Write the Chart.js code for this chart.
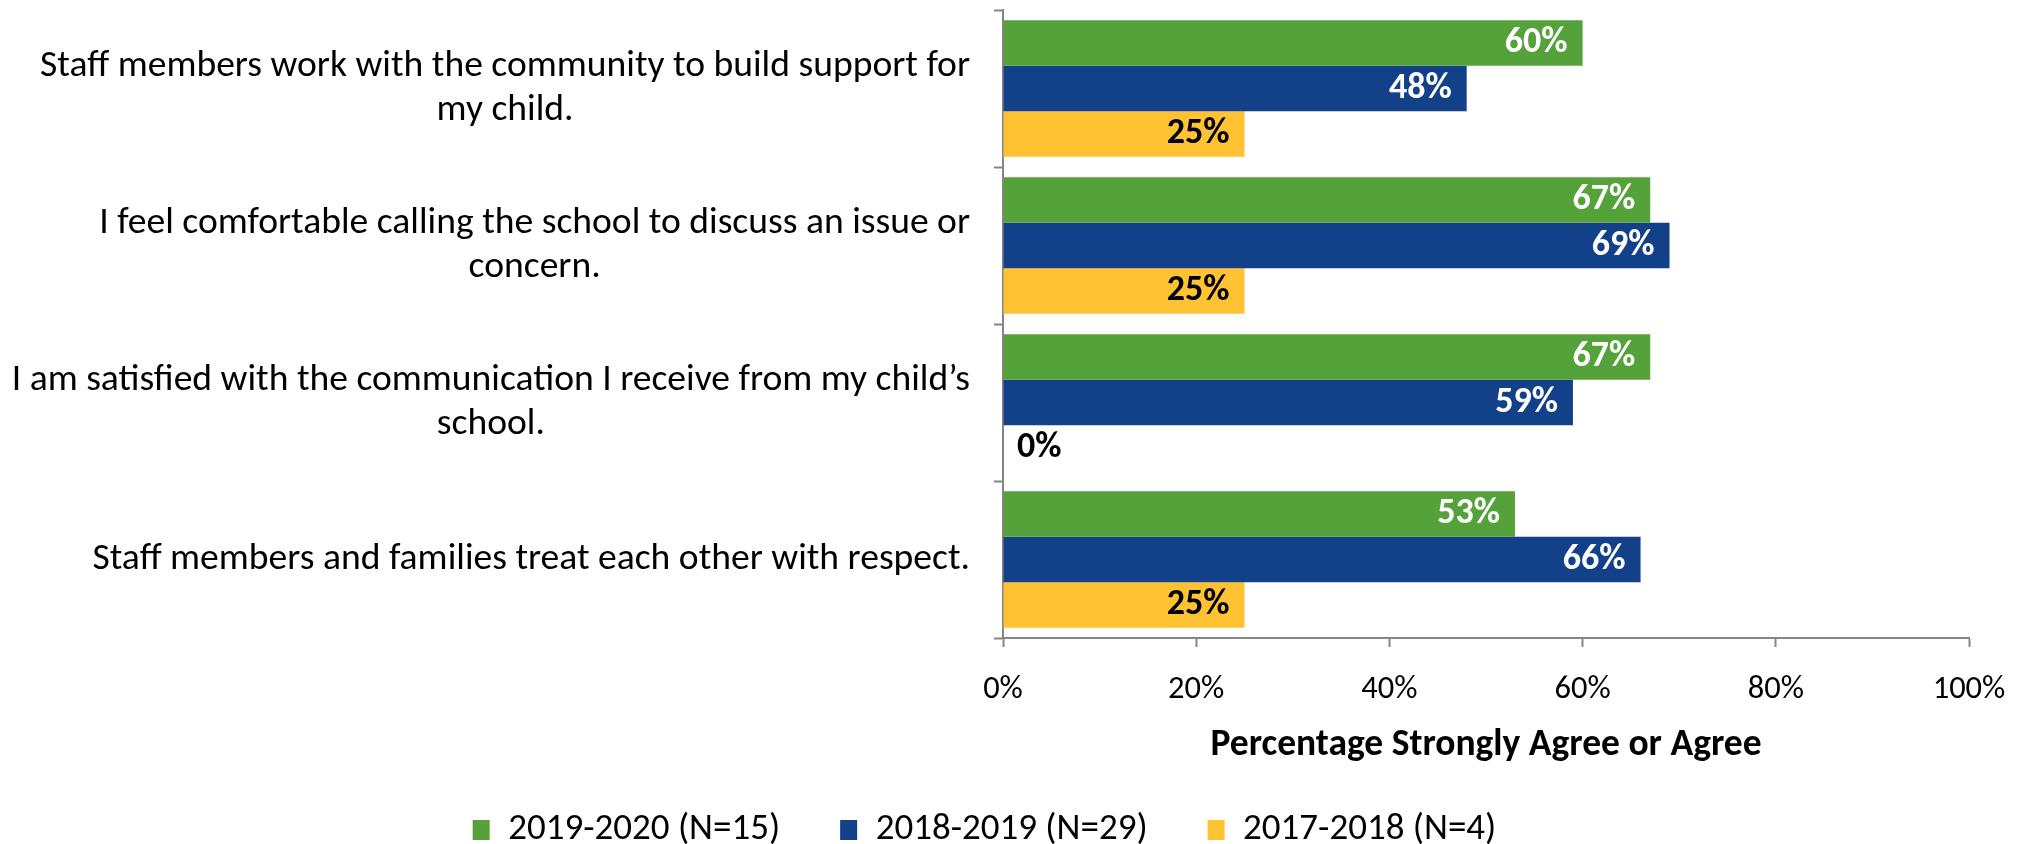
<!DOCTYPE html>
<html>
<head>
<meta charset="utf-8">
<script src="https://cdn.jsdelivr.net/npm/chart.js@4.4.1/dist/chart.umd.min.js"></script>
<style>
  html, body { margin: 0; padding: 0; background: #fff; }
</style>
</head>
<body>
<canvas id="myChart" width="2033" height="844"></canvas>
<script>
const FONT = '"Carlito", "Lato", "Liberation Sans", sans-serif';

const categories = [
  ["Staff members work with the community to build support for", "my child."],
  ["I feel comfortable calling the school to discuss an issue or", "concern."],
  ["I am satisfied with the communication I receive from my child\u2019s", "school."],
  ["Staff members and families treat each other with respect."]
];

const seriesNames = ["2019-2020 (N=15)", "2018-2019 (N=29)", "2017-2018 (N=4)"];
const values2019 = [60, 67, 67, 53];
const values2018 = [48, 69, 59, 66];
const values2017 = [25, 25, 0, 25];
const seriesColors = ["#55A13A", "#134189", "#FFC232"];
const labelColors = ["#ffffff", "#ffffff", "#000000"];

const xTicks = [0, 20, 40, 60, 80, 100];
const xTitle = "Percentage Strongly Agree or Agree";

// y labels: right aligned block, each line centered in it
const catLabels = {
  id: "catLabels",
  afterDraw(chart) {
    const ctx = chart.ctx;
    const y = chart.scales.y;
    ctx.save();
    ctx.font = "37.6px " + FONT;
    ctx.fillStyle = "#000";
    ctx.textAlign = "center";
    ctx.textBaseline = "middle";
    const lineH = 44;
    categories.forEach((lines, i) => {
      const cy = y.getPixelForValue(i);
      let maxW = 0;
      lines.forEach(l => { maxW = Math.max(maxW, ctx.measureText(l).width); });
      const cx = chart.chartArea.left - 33 - maxW / 2;
      const top = cy - (lines.length - 1) * lineH / 2;
      lines.forEach((l, j) => ctx.fillText(l, cx, top + j * lineH));
    });
    ctx.restore();
  }
};

// value labels at bar ends
const barLabels = {
  id: "barLabels",
  afterDatasetsDraw(chart) {
    const ctx = chart.ctx;
    ctx.save();
    ctx.font = "bold 36px " + FONT;
    ctx.textBaseline = "middle";
    chart.data.datasets.forEach((ds, di) => {
      const meta = chart.getDatasetMeta(di);
      meta.data.forEach((bar, i) => {
        const v = ds.data[i];
        const txt = v + "%";
        if (v === 0) {
          ctx.fillStyle = "#000";
          ctx.textAlign = "left";
          ctx.fillText(txt, bar.x + 14, bar.y);
        } else {
          ctx.fillStyle = labelColors[di];
          ctx.textAlign = "right";
          ctx.fillText(txt, bar.x - 15, bar.y);
        }
      });
    });
    ctx.restore();
  }
};

const datasets = [values2019, values2018, values2017].map((vals, i) => ({
  label: seriesNames[i],
  data: vals,
  backgroundColor: seriesColors[i],
  borderWidth: 0,
  categoryPercentage: 0.87,
  barPercentage: 1.0
}));

const chart = new Chart(document.getElementById("myChart"), {
  type: "bar",
  data: { labels: categories.map(c => c.join(" ")), datasets: datasets },
  plugins: [catLabels, barLabels],
  options: {
    indexAxis: "y",
    responsive: false,
    animation: false,
    devicePixelRatio: 1,
    layout: { padding: { top: 10, right: 64, bottom: -14.5, left: 0 } },
    scales: {
      x: {
        min: 0,
        max: 100,
        afterBuildTicks(scale) { scale.ticks = xTicks.map(v => ({ value: v })); },
        afterFit(scale) { scale.height = 113.5; },
        ticks: {
          callback: v => v + "%",
          color: "#000",
          font: { family: FONT, size: 32.5 },
          padding: 23,
          maxRotation: 0
        },
        grid: { drawOnChartArea: false, drawTicks: true, tickLength: 9, tickColor: "#868686", tickWidth: 2 },
        border: { color: "#868686", width: 2 },
        title: {
          display: true,
          text: xTitle,
          color: "#000",
          font: { family: FONT, size: 37.5, weight: "bold" },
          padding: { top: 0, bottom: -17 }
        }
      },
      y: {
        ticks: { display: false },
        grid: { offset: true, drawOnChartArea: false, drawTicks: true, tickLength: 9, tickColor: "#868686", tickWidth: 2 },
        border: { color: "#868686", width: 2 },
        afterFit(scale) { scale.width = 1003; }
      }
    },
    plugins: {
      legend: {
        position: "bottom",
        labels: {
          color: "#000",
          font: { family: FONT, size: 37 },
          boxWidth: 17,
          boxHeight: 20,
          padding: 60
        }
      },
      tooltip: { enabled: false }
    }
  }
});
</script>
</body>
</html>
